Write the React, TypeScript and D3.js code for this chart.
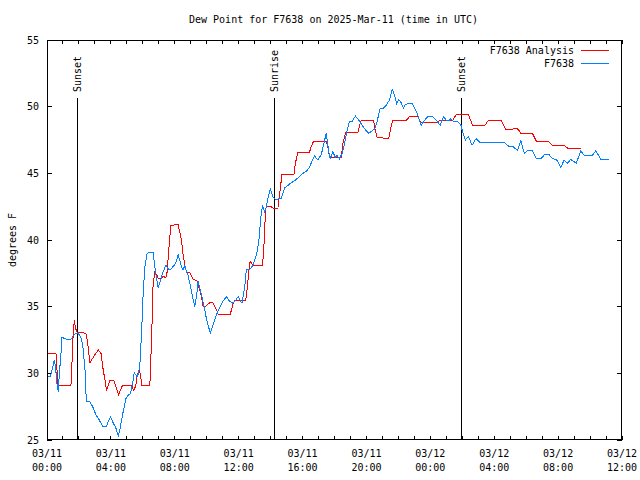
import React from "react";
import * as d3 from "d3";

const TITLE = "Dew Point for F7638 on 2025-Mar-11 (time in UTC)";
const Y_LABEL = "degrees F";
const START = Date.UTC(2025, 2, 11, 0, 0);
const SPAN_HOURS = 36;
const Y_DOMAIN = [25, 55];
const Y_TICKS = [25, 30, 35, 40, 45, 50, 55];

// hours since 2025-03-11 00:00 UTC
const ANALYSIS_HOURS = [0, 0.56, 0.69, 1.5, 1.56, 1.64, 1.71, 1.77, 1.86, 2.44, 2.54, 2.69, 2.79, 3.0, 3.21, 3.38, 3.52, 3.63, 3.73, 3.83, 3.94, 4.19, 4.31, 4.48, 4.73, 5.29, 5.44, 5.56, 5.64, 5.77, 5.86, 5.94, 6.44, 6.5, 6.61, 6.64, 6.75, 6.86, 6.96, 7.19, 7.27, 7.44, 7.52, 7.64, 7.75, 8.21, 8.31, 8.42, 8.52, 8.63, 8.73, 8.94, 9.14, 9.39, 9.48, 9.56, 9.67, 9.77, 9.94, 10.19, 10.39, 10.56, 10.71, 11.48, 11.61, 11.73, 12.44, 12.52, 12.69, 12.73, 12.89, 13.48, 13.56, 13.67, 13.73, 14.04, 14.14, 14.46, 14.56, 14.71, 15.46, 15.54, 15.71, 16.44, 16.54, 16.69, 17.48, 17.58, 17.69, 18.42, 18.52, 18.69, 19.46, 19.56, 19.67, 20.44, 20.56, 20.67, 21.39, 21.54, 21.64, 22.48, 22.69, 23.21, 23.42, 24.44, 24.56, 25.39, 25.61, 26.39, 26.64, 27.42, 27.64, 28.42, 28.73, 29.14, 29.36, 29.5, 29.67, 30.39, 30.64, 31.39, 31.64, 32.38, 32.58, 33.42];
const ANALYSIS_VALUES = [31.5, 31.5, 29.1, 29.1, 30.7, 33.0, 34.0, 33.5, 33.1, 33.0, 32.3, 30.8, 31.0, 31.4, 31.75, 31.5, 30.25, 29.5, 28.7, 29.1, 29.5, 29.45, 29.0, 28.4, 29.1, 29.1, 28.7, 29.1, 29.8, 30.3, 29.8, 29.1, 29.1, 31.0, 35.0, 36.6, 37.6, 37.4, 37.15, 37.15, 37.3, 37.15, 37.6, 39.5, 41.1, 41.15, 40.6, 40.0, 38.9, 38.1, 37.6, 37.55, 37.05, 36.95, 36.55, 36.25, 35.75, 35.0, 35.05, 35.3, 35.3, 34.9, 34.45, 34.45, 35.05, 35.45, 35.45, 36.25, 38.25, 38.4, 38.1, 38.1, 38.95, 41.9, 42.55, 42.5, 42.4, 42.4, 43.4, 44.9, 44.9, 45.7, 46.6, 46.6, 47.0, 47.4, 47.4, 47.0, 46.2, 46.2, 47.2, 48.05, 48.05, 48.55, 49.0, 49.0, 48.2, 47.7, 47.6, 48.5, 48.95, 48.95, 49.25, 49.25, 48.8, 48.8, 48.95, 48.95, 49.4, 49.4, 48.6, 48.6, 49.0, 49.0, 48.3, 48.3, 48.4, 48.3, 48.0, 48.0, 47.4, 47.4, 47.1, 47.1, 46.9, 46.9];

const OBS_HOURS = [0, 0.19, 0.29, 0.39, 0.46, 0.54, 0.64, 0.71, 0.77, 0.86, 0.94, 1.13, 1.44, 1.54, 1.64, 1.81, 1.96, 2.06, 2.17, 2.27, 2.38, 2.44, 2.48, 2.69, 2.86, 3.06, 3.27, 3.48, 3.73, 3.83, 3.98, 4.14, 4.31, 4.46, 4.56, 4.73, 4.94, 5.08, 5.23, 5.36, 5.46, 5.56, 5.64, 5.71, 5.81, 5.86, 5.92, 6.02, 6.13, 6.27, 6.44, 6.64, 6.75, 6.86, 6.96, 7.06, 7.23, 7.44, 7.58, 7.69, 7.89, 8.06, 8.21, 8.31, 8.42, 8.52, 8.63, 8.73, 8.83, 8.94, 9.11, 9.25, 9.36, 9.46, 9.56, 9.67, 9.88, 9.98, 10.08, 10.23, 10.39, 10.61, 10.81, 11.02, 11.23, 11.44, 11.64, 11.81, 11.96, 12.06, 12.21, 12.38, 12.48, 12.69, 12.89, 13.11, 13.27, 13.39, 13.5, 13.63, 13.73, 13.83, 13.98, 14.14, 14.31, 14.67, 14.77, 14.88, 15.19, 15.61, 16.02, 16.23, 16.44, 16.61, 16.75, 16.96, 17.17, 17.31, 17.48, 17.54, 17.64, 17.73, 17.89, 18.06, 18.14, 18.31, 18.48, 18.63, 18.77, 18.94, 19.11, 19.31, 19.52, 19.73, 19.94, 20.14, 20.36, 20.5, 20.64, 20.86, 21.02, 21.23, 21.44, 21.61, 21.75, 21.89, 22.02, 22.17, 22.31, 22.44, 22.69, 22.89, 23.06, 23.21, 23.42, 23.63, 23.83, 24.14, 24.36, 24.61, 24.83, 24.98, 25.14, 25.29, 25.5, 25.71, 25.92, 26.02, 26.19, 26.39, 26.61, 26.86, 27.11, 28.63, 28.94, 29.19, 29.46, 29.67, 29.88, 30.14, 30.39, 30.64, 30.92, 31.19, 31.44, 31.64, 31.89, 32.17, 32.38, 32.58, 32.79, 32.96, 33.14, 33.42, 33.63, 34.14, 34.36, 34.67, 35.19];
const OBS_VALUES = [29.8, 29.75, 30.1, 30.6, 31.0, 30.4, 29.0, 28.6, 30.0, 31.2, 32.7, 32.6, 32.5, 32.6, 32.8, 33.0, 33.0, 32.8, 32.55, 31.75, 30.25, 28.5, 27.9, 27.85, 27.5, 26.9, 26.5, 26.05, 26.05, 26.4, 26.7, 26.3, 25.9, 25.3, 25.75, 26.9, 28.1, 28.35, 28.5, 29.25, 30.05, 29.9, 29.75, 29.95, 30.5, 31.75, 33.0, 36.0, 38.0, 39.0, 39.1, 39.1, 38.0, 37.1, 36.45, 36.75, 37.5, 38.1, 37.85, 37.75, 38.0, 38.25, 38.9, 38.5, 38.0, 37.75, 38.1, 37.6, 37.35, 36.75, 35.75, 35.0, 35.75, 36.9, 36.45, 35.9, 34.75, 34.1, 33.6, 33.05, 33.6, 34.4, 34.95, 35.4, 35.75, 35.4, 35.25, 35.45, 35.75, 35.55, 35.25, 36.5, 37.75, 37.8, 38.1, 38.85, 40.0, 41.75, 42.6, 42.1, 42.5, 43.1, 43.8, 43.25, 43.05, 43.1, 43.5, 43.9, 44.2, 44.55, 45.0, 45.15, 45.45, 46.0, 46.3, 46.0, 46.4, 47.1, 48.0, 47.5, 46.6, 46.1, 46.6, 46.2, 46.35, 46.1, 46.5, 47.25, 48.1, 48.9, 48.9, 49.3, 49.0, 48.6, 48.25, 48.0, 48.2, 48.3, 48.75, 49.9, 49.85, 50.1, 50.5, 51.3, 50.9, 50.25, 50.55, 50.3, 49.9, 50.15, 50.25, 50.2, 49.8, 49.4, 48.6, 48.95, 49.25, 49.25, 49.0, 48.6, 49.25, 49.0, 48.95, 49.1, 48.85, 48.9, 48.6, 48.1, 47.5, 47.75, 47.1, 47.6, 47.3, 47.3, 47.0, 47.0, 46.7, 47.45, 46.5, 46.75, 46.7, 46.1, 46.1, 46.45, 46.4, 46.1, 46.05, 45.45, 46.0, 45.75, 46.05, 45.9, 45.75, 46.7, 46.35, 46.35, 46.7, 46.05, 46.05];

const SERIES_NAMES = ["F7638 Analysis", "F7638"];
const SUN_EVENTS = ["Sunset", "Sunrise", "Sunset"];
const SUN_HOURS = [1.9, 14.2, 25.92];

const W = 640;
const H = 480;
const M = { left: 47, right: 18, top: 40, bottom: 40 };
const FONT = "'DejaVu Sans Mono', 'Liberation Mono', monospace";
const RED = "#ff0000";
const BLUE = "#0080ff";

const toDate = (h: number) => new Date(START + h * 3600e3);

export default function App() {
  const x = d3
    .scaleUtc()
    .domain([toDate(0), toDate(SPAN_HOURS)])
    .range([M.left, W - M.right]);
  const y = d3.scaleLinear().domain(Y_DOMAIN).range([H - M.bottom, M.top]);

  const line = d3
    .line<[number, number]>()
    .x((d) => x(toDate(d[0])))
    .y((d) => y(d[1]));

  const red = line(ANALYSIS_HOURS.map((h, i) => [h, ANALYSIS_VALUES[i]]));
  const blue = line(OBS_HOURS.map((h, i) => [h, OBS_VALUES[i]]));

  const hourTicks = x.ticks(d3.utcHour.every(1)!);
  const labelTicks = x.ticks(d3.utcHour.every(4)!);
  const fmtDate = d3.utcFormat("%m/%d");
  const fmtTime = d3.utcFormat("%H:%M");

  const x0 = M.left;
  const x1 = W - M.right;
  const y0 = M.top;
  const y1 = H - M.bottom;

  return (
    <svg
      width={W}
      height={H}
      style={{ position: "absolute", left: 0, top: 0, background: "#fff" }}
      fontFamily={FONT}
      fontSize={10}
    >
      <rect x={0} y={0} width={W} height={H} fill="#fff" />
      <text x={(x0 + x1) / 2 - 1} y={23} textAnchor="middle" fill="#000">
        {TITLE}
      </text>
      <text
        transform={`translate(12,${(y0 + y1) / 2}) rotate(-90)`}
        textAnchor="middle"
        dy="0.35em"
        fill="#000"
      >
        {Y_LABEL}
      </text>

      {/* ticks */}
      <g stroke="#000" strokeWidth={1} shapeRendering="crispEdges">
        {hourTicks.map((t, i) => (
          <g key={"xt" + i}>
            <line x1={x(t)} x2={x(t)} y1={y1} y2={y1 - 4} />
            <line x1={x(t)} x2={x(t)} y1={y0} y2={y0 + 4} />
          </g>
        ))}
        {Y_TICKS.map((v) => (
          <g key={"yt" + v}>
            <line x1={x0} x2={x0 + 5} y1={y(v)} y2={y(v)} />
            <line x1={x1} x2={x1 - 5} y1={y(v)} y2={y(v)} />
          </g>
        ))}
      </g>

      {Y_TICKS.map((v) => (
        <text key={"yl" + v} x={x0 - 8} y={y(v)} dy="0.35em" textAnchor="end" fill="#000">
          {v}
        </text>
      ))}
      {labelTicks.map((t, i) => (
        <g key={"xl" + i}>
          <text x={x(t)} y={457} textAnchor="middle" fill="#000">
            {fmtDate(t)}
          </text>
          <text x={x(t)} y={471} textAnchor="middle" fill="#000">
            {fmtTime(t)}
          </text>
        </g>
      ))}

      {/* sun events */}
      {SUN_EVENTS.map((name, i) => {
        const sx = Math.round(x(toDate(SUN_HOURS[i]))) + 0.5;
        return (
          <g key={"sun" + i}>
            <line x1={sx} x2={sx} y1={98} y2={y1} stroke="#000" strokeWidth={1} shapeRendering="crispEdges" />
            <text
              transform={`translate(${sx},92) rotate(-90)`}
              dy="0.35em"
              textAnchor="start"
              fill="#000"
            >
              {name}
            </text>
          </g>
        );
      })}

      {/* data */}
      <path d={red ?? ""} fill="none" stroke={RED} strokeWidth={1} shapeRendering="crispEdges" />
      <path d={blue ?? ""} fill="none" stroke={BLUE} strokeWidth={1} shapeRendering="crispEdges" />

      {/* legend */}
      <text x={574} y={50} dy="0.35em" textAnchor="end" fill="#000">
        {SERIES_NAMES[0]}
      </text>
      <line x1={581} x2={609} y1={50.5} y2={50.5} stroke={RED} strokeWidth={1} shapeRendering="crispEdges" />
      <text x={574} y={63} dy="0.35em" textAnchor="end" fill="#000">
        {SERIES_NAMES[1]}
      </text>
      <line x1={581} x2={609} y1={63.5} y2={63.5} stroke={BLUE} strokeWidth={1} shapeRendering="crispEdges" />

      {/* frame */}
      <rect
        x={x0 + 0.5}
        y={y0 + 0.5}
        width={x1 - x0 - 1}
        height={y1 - y0 - 1}
        fill="none"
        stroke="#000"
        strokeWidth={1}
        shapeRendering="crispEdges"
      />
    </svg>
  );
}
